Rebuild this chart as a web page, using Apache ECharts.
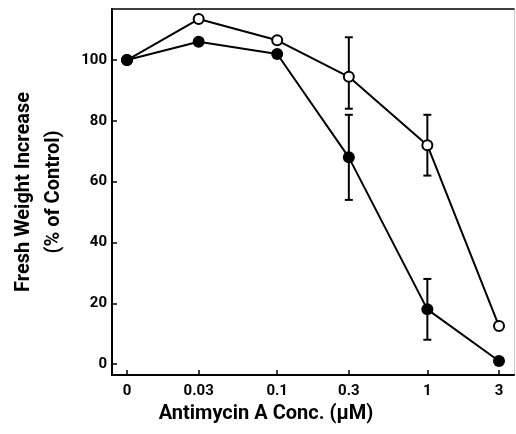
<!DOCTYPE html>
<html><head><meta charset="utf-8">
<script src="https://cdn.jsdelivr.net/npm/echarts@6/dist/echarts.min.js"></script>
<style>html,body{margin:0;padding:0;background:#fff}#c{width:516px;height:434px}</style>
</head><body><div id="c"></div>
<script>
// Data
const concentrations = [0, 0.03, 0.1, 0.3, 1, 3];
const concLabels = ['0', '0.03', '0.1', '0.3', '1', '3'];
const filledValues = [100, 106, 102, 68, 18, 1];
const openValues = [100, 113.5, 106.5, 94.5, 72, 12.5];
// error bars: [concIndex, low, high]
const filledErrors = [[3, 54, 82], [4, 8, 28]];
const openErrors = [[3, 84, 107.5], [4, 62, 82]];
const yTicks = [0, 20, 40, 60, 80, 100];

// x position on a log scale; zero control plotted at one decade below 0.1
const xPos = c => Math.log10(c === 0 ? 0.01 : c);
const xTickPos = concentrations.map(xPos);

const FONT = 'Roboto, "Open Sans", sans-serif';
const chart = echarts.init(document.getElementById('c'), null, {renderer: 'canvas'});

function errSeries(errs, z) {
  return {
    type: 'custom', z: z, silent: true,
    data: errs.map(e => [xPos(concentrations[e[0]]), e[1], e[2]]),
    renderItem: function (params, api) {
      const x = api.value(0);
      const lo = api.coord([x, api.value(1)]);
      const hi = api.coord([x, api.value(2)]);
      const w = 4;
      const st = {stroke: '#000', lineWidth: 2};
      return {type: 'group', children: [
        {type: 'line', shape: {x1: lo[0], y1: lo[1], x2: hi[0], y2: hi[1]}, style: st},
        {type: 'line', shape: {x1: lo[0] - w, y1: lo[1], x2: lo[0] + w, y2: lo[1]}, style: st},
        {type: 'line', shape: {x1: hi[0] - w, y1: hi[1], x2: hi[0] + w, y2: hi[1]}, style: st}
      ]};
    }
  };
}

chart.setOption({
  animation: false,
  backgroundColor: '#fff',
  grid: {left: 112, right: 2, top: 9, bottom: 59, containLabel: false},
  xAxis: [{
    type: 'value', min: -2.1, max: 0.577,
    name: 'Antimycin A Conc. (μM)', nameLocation: 'middle', nameGap: 26,
    nameTextStyle: {fontFamily: FONT, fontSize: 20, fontWeight: 'bold', color: '#000', padding: [0, 94, 0, 0]},
    axisLine: {show: true, onZero: false, lineStyle: {color: '#000', width: 2}},
    axisTick: {show: true, inside: true, length: 5, customValues: xTickPos, lineStyle: {color: '#000', width: 1.5}},
    axisLabel: {
      show: true, margin: 9, customValues: xTickPos,
      fontFamily: FONT, fontSize: 15, fontWeight: 'bold', color: '#000',
      formatter: v => {
        let best = 0;
        xTickPos.forEach((p, i) => { if (Math.abs(p - v) < Math.abs(xTickPos[best] - v)) best = i; });
        return concLabels[best];
      }
    },
    splitLine: {show: false}
  }, {
    type: 'value', position: 'top', min: -2.1, max: 0.577,
    axisLine: {show: true, onZero: false, lineStyle: {color: '#000', width: 1.5}},
    axisTick: {show: false}, axisLabel: {show: false}, splitLine: {show: false}
  }],
  yAxis: [{
    type: 'value', min: -3.6, max: 116.8,
    name: 'Fresh Weight Increase\n(% of Control)', nameLocation: 'middle', nameRotate: 90, nameGap: 43,
    nameTextStyle: {fontFamily: FONT, fontSize: 20, fontWeight: 'bold', color: '#000', lineHeight: 30},
    axisLine: {show: true, onZero: false, lineStyle: {color: '#000', width: 2}},
    axisTick: {show: true, inside: true, length: 5, customValues: yTicks, lineStyle: {color: '#000', width: 1.5}},
    axisLabel: {show: true, margin: 5, customValues: yTicks, fontFamily: FONT, fontSize: 15, fontWeight: 'bold', color: '#000'},
    splitLine: {show: false}
  }, {
    type: 'value', position: 'right', min: -3.6, max: 116.8,
    axisLine: {show: true, onZero: false, lineStyle: {color: '#ccc', width: 1}},
    axisTick: {show: false}, axisLabel: {show: false}, splitLine: {show: false}
  }],
  series: [
    errSeries(openErrors, 2),
    errSeries(filledErrors, 2),
    {
      type: 'line', z: 3,
      data: concentrations.map((c, i) => [xPos(c), openValues[i]]),
      symbol: 'circle', symbolSize: 10, showAllSymbol: true,
      lineStyle: {color: '#000', width: 2},
      itemStyle: {color: '#fff', borderColor: '#000', borderWidth: 2}
    },
    {
      type: 'line', z: 4,
      data: concentrations.map((c, i) => [xPos(c), filledValues[i]]),
      symbol: 'circle', symbolSize: 12, showAllSymbol: true,
      lineStyle: {color: '#000', width: 2},
      itemStyle: {color: '#000', borderColor: '#000', borderWidth: 0}
    }
  ]
});
</script>
</body></html>
